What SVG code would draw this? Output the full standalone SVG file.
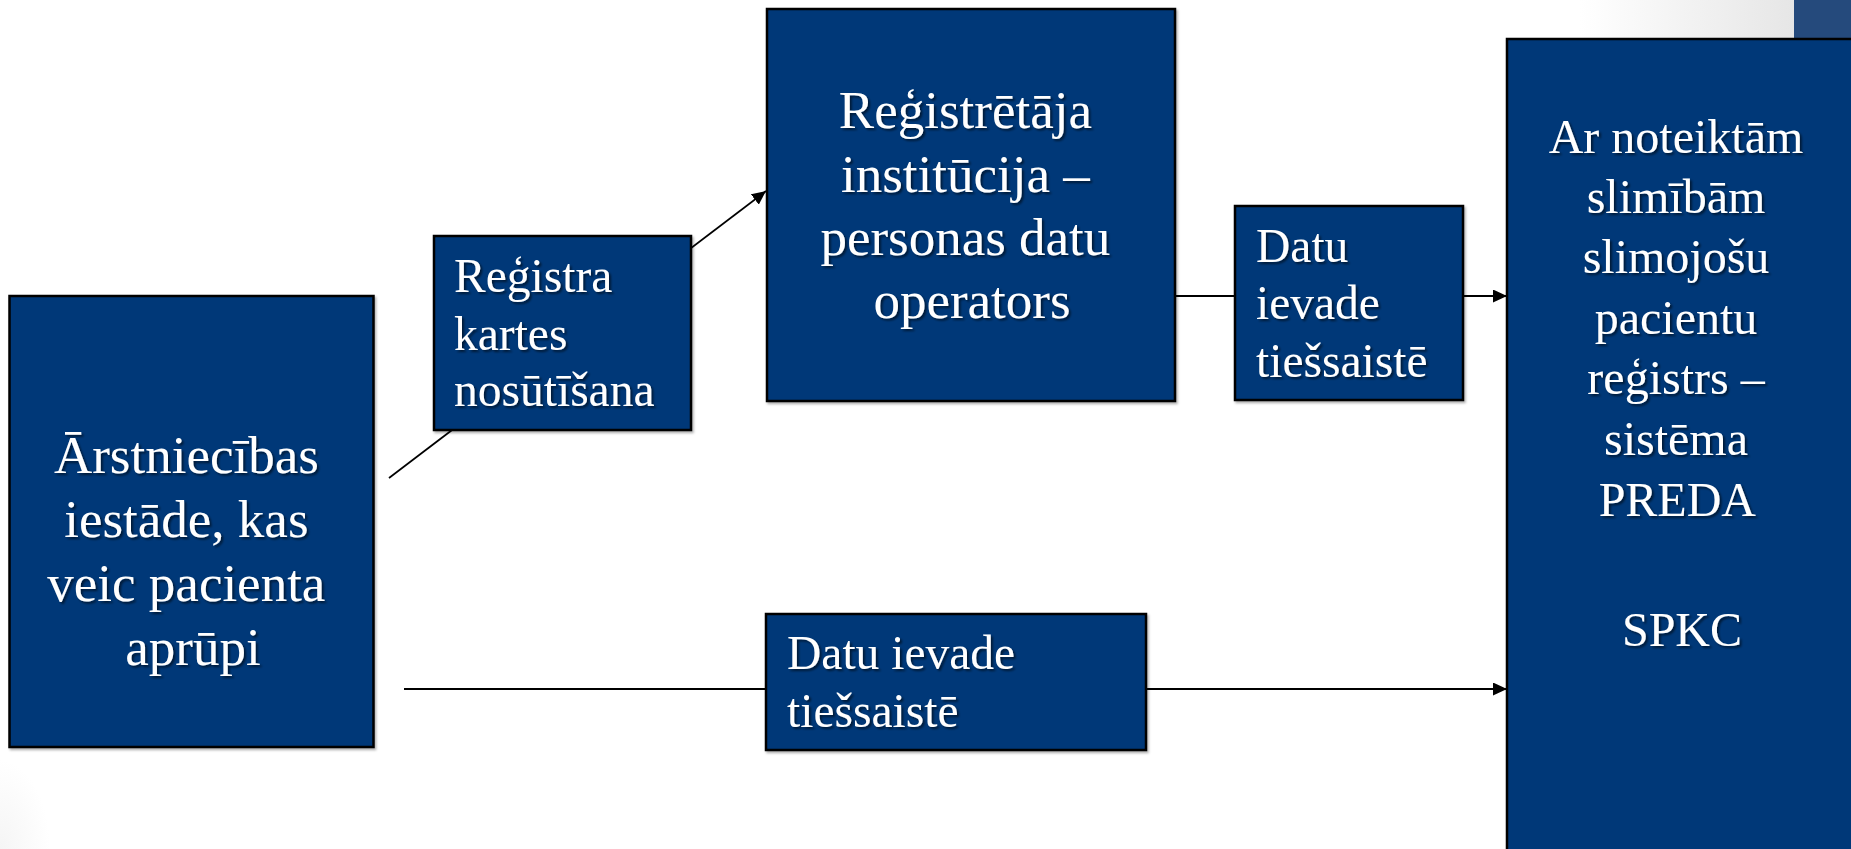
<svg xmlns="http://www.w3.org/2000/svg" width="1851" height="849" viewBox="0 0 1851 849">
  <style>
    .box { fill: #003878; stroke: #000; stroke-width: 2.5; filter: url(#boxShadow); }
    .t { fill: #fff; font-family: "Liberation Serif", "Times New Roman", serif; filter: url(#txtShadow); }
    .big { font-size: 53px; }
    .mid { font-size: 47.5px; }
    .rt { font-size: 48px; }
    .conn { stroke: #000; stroke-width: 1.8; fill: none; }
  </style>
  <defs>
    <marker id="arrow" markerUnits="userSpaceOnUse" markerWidth="15" markerHeight="13" refX="14" refY="6.5" orient="auto">
      <path d="M0,0 L14,6.5 L0,13 z" fill="#000"/>
    </marker>
    <filter id="txtShadow" x="-10%" y="-20%" width="130%" height="150%">
      <feDropShadow dx="2" dy="2" stdDeviation="1.2" flood-color="#000" flood-opacity="0.55"/>
    </filter>
    <filter id="boxShadow" x="-5%" y="-5%" width="115%" height="115%">
      <feDropShadow dx="1.5" dy="2" stdDeviation="1" flood-color="#000" flood-opacity="0.3"/>
    </filter>
    <linearGradient id="topGrad" x1="0" y1="0" x2="1" y2="0">
      <stop offset="0" stop-color="#ffffff"/>
      <stop offset="1" stop-color="#e6e6e6"/>
    </linearGradient>
    <radialGradient id="blGrad" cx="0" cy="1" r="1">
      <stop offset="0" stop-color="#f5f5f5"/>
      <stop offset="1" stop-color="#ffffff"/>
    </radialGradient>
  </defs>

  <rect x="0" y="0" width="1851" height="849" fill="#fff"/>
  <rect x="0" y="760" width="50" height="89" fill="url(#blGrad)"/>
  <rect x="1580" y="0" width="214" height="39" fill="url(#topGrad)"/>
  <rect x="1794" y="0" width="57" height="39" fill="#254a7c"/>

  <g id="connectors">
    <line class="conn" x1="389" y1="478" x2="766" y2="191" marker-end="url(#arrow)"/>
    <line class="conn" x1="1175" y1="296" x2="1507" y2="296" marker-end="url(#arrow)"/>
    <line class="conn" x1="404" y1="689" x2="1507" y2="689" marker-end="url(#arrow)"/>
  </g>

  <g id="node-arstniecibas">
    <rect class="box" x="9.5" y="296" width="364" height="451"/>
    <text class="t big" text-anchor="middle">
      <tspan x="193" y="473">Ārstniecības</tspan>
      <tspan x="193" y="537">iestāde, kas</tspan>
      <tspan x="193" y="601">veic pacienta</tspan>
      <tspan x="193" y="665">aprūpi</tspan>
    </text>
  </g>

  <g id="node-registra-kartes">
    <rect class="box" x="434" y="236" width="257" height="194"/>
    <text class="t mid">
      <tspan x="454" y="292">Reģistra</tspan>
      <tspan x="454" y="350">kartes</tspan>
      <tspan x="454" y="406">nosūtīšana</tspan>
    </text>
  </g>

  <g id="node-registretaja">
    <rect class="box" x="767" y="9" width="408" height="392"/>
    <text class="t big" text-anchor="middle">
      <tspan x="972" y="128">Reģistrētāja</tspan>
      <tspan x="972" y="192">institūcija –</tspan>
      <tspan x="972" y="255">personas datu</tspan>
      <tspan x="972" y="318">operators</tspan>
    </text>
  </g>

  <g id="node-datu-top">
    <rect class="box" x="1235" y="206" width="228" height="194"/>
    <text class="t mid">
      <tspan x="1256" y="262">Datu</tspan>
      <tspan x="1256" y="319">ievade</tspan>
      <tspan x="1256" y="377">tiešsaistē</tspan>
    </text>
  </g>

  <g id="node-preda">
    <rect class="box" x="1507" y="39" width="352" height="820"/>
    <text class="t rt" text-anchor="middle">
      <tspan x="1682" y="153">Ar noteiktām</tspan>
      <tspan x="1682" y="213">slimībām</tspan>
      <tspan x="1682" y="273">slimojošu</tspan>
      <tspan x="1682" y="334">pacientu</tspan>
      <tspan x="1682" y="394">reģistrs –</tspan>
      <tspan x="1682" y="455">sistēma</tspan>
      <tspan x="1682" y="516">PREDA</tspan>
      <tspan x="1682" y="646">SPKC</tspan>
    </text>
  </g>

  <g id="node-datu-bottom">
    <rect class="box" x="766" y="614" width="380" height="136"/>
    <text class="t mid">
      <tspan x="787" y="669">Datu ievade</tspan>
      <tspan x="787" y="727">tiešsaistē</tspan>
    </text>
  </g>
</svg>
